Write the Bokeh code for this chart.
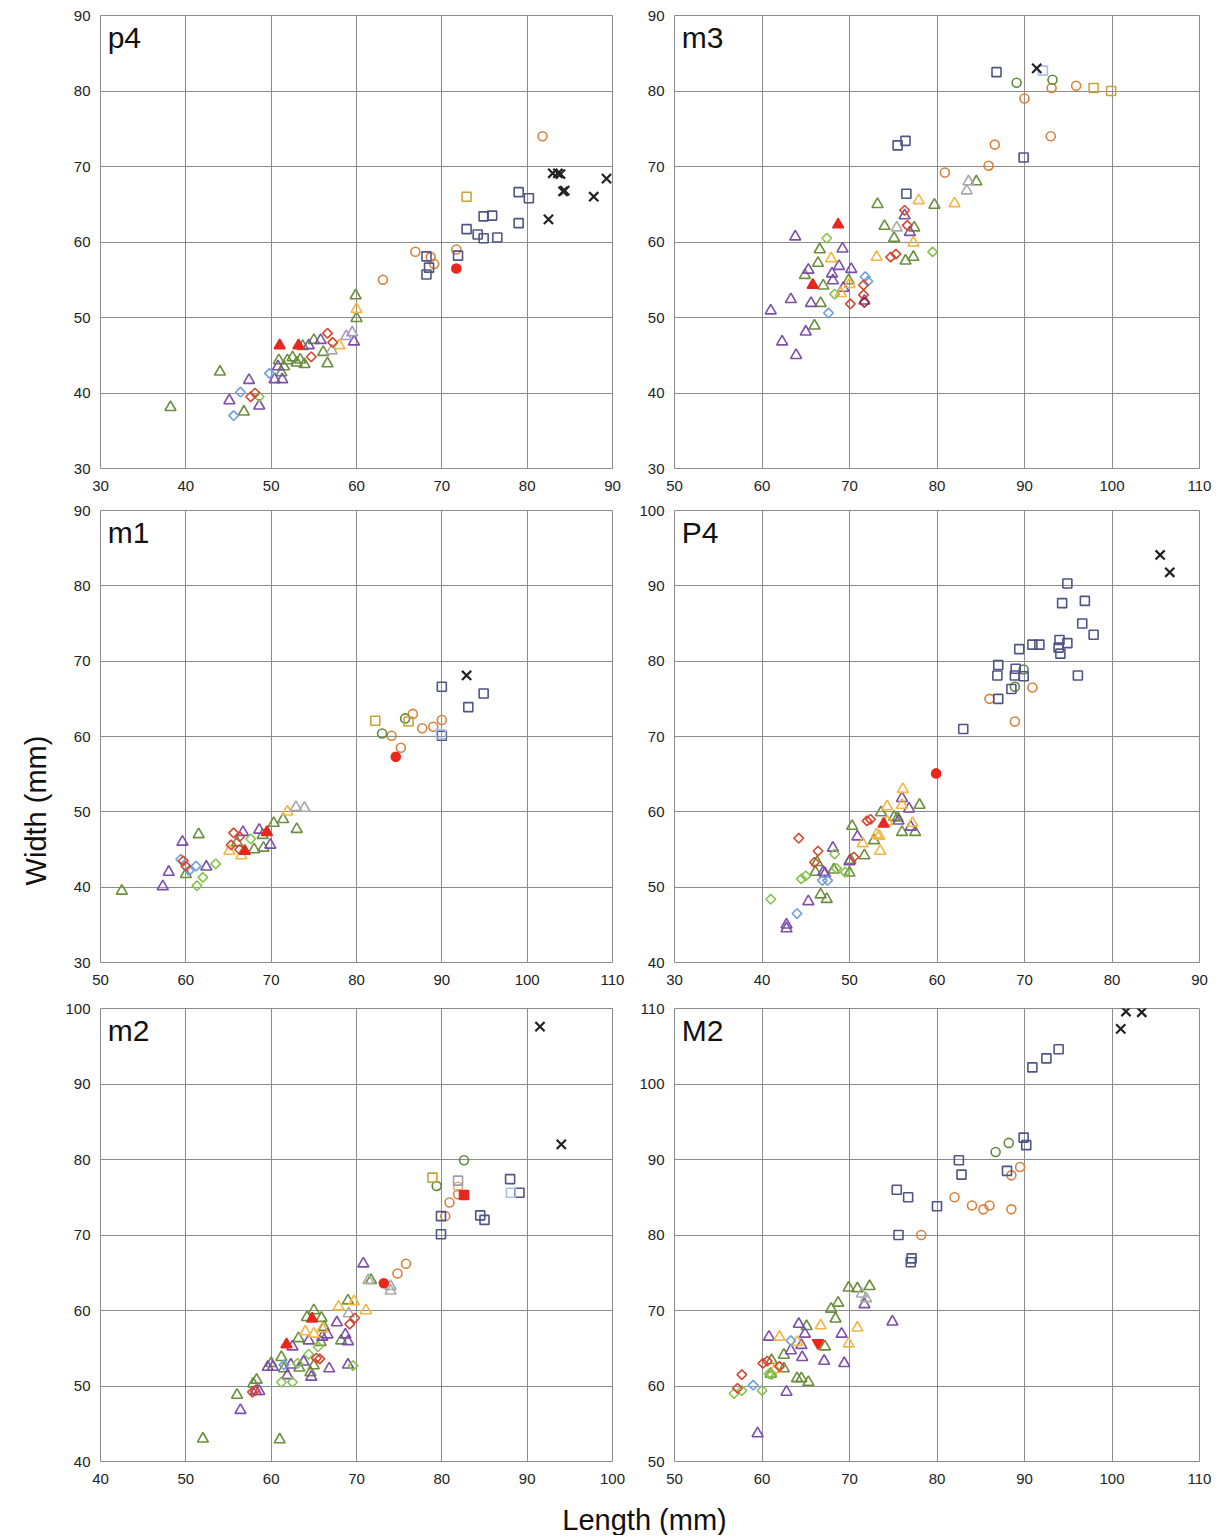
import numpy as np
from bokeh.plotting import figure
from bokeh.models import Range1d, FixedTicker, Label, ColumnDataSource
from bokeh.layouts import row, column
from bokeh.embed import file_html
from bokeh.resources import INLINE
from bokeh.core.properties import value

# ---------------- data (length, width) in mm ----------------
# p4
P4_GT = [(38.2,38.1),(44.0,42.8),(46.8,37.5),(50.9,44.3),(51.2,42.7),(51.5,43.5),(51.9,44.3),(52.5,44.7),
         (53.0,44.0),(53.4,44.4),(53.9,43.8),(53.7,46.2),(55.0,47.0),(56.1,45.4),(56.6,43.9),(59.9,52.9),(60.0,49.9)]
P4_PT = [(45.1,39.0),(47.4,41.7),(48.6,38.3),(50.4,41.8),(50.8,43.5),(51.3,41.8),(54.4,46.3),(55.8,47.0),(59.7,46.8)]
P4_LPT = [(58.8,47.5),(59.5,48.0)]
P4_GYT = [(57.1,45.6)]
P4_OT = [(58.0,46.3),(60.0,51.1)]
P4_BD = [(45.6,37.0),(46.4,40.1),(49.8,42.6)]
P4_RD = [(47.6,39.5),(48.1,40.0),(54.7,44.8),(56.6,47.9),(57.2,46.7)]
P4_LGD = [(48.6,39.5)]
P4_RFT = [(51.0,46.3),(53.2,46.3)]
P4_OC = [(81.8,74.0),(66.9,58.7),(68.7,58.0),(69.1,57.1),(71.7,59.0),(63.1,55.0)]
P4_RFC = [(71.7,56.5)]
P4_NS = [(79.0,66.6),(80.2,65.8),(74.9,63.4),(75.9,63.5),(79.0,62.5),(72.9,61.7),(74.2,61.0),(74.9,60.5),
         (76.5,60.6),(71.9,58.2),(68.2,58.1),(68.5,56.6),(68.2,55.7)]
P4_GS = [(72.9,66.0)]
P4_BX = [(83.0,69.1),(83.6,69.1),(83.9,69.0),(84.2,66.7),(84.4,66.8),(89.3,68.4),(87.8,66.0),(82.5,63.0)]

# m3
M3_GT = [(79.7,64.9),(73.2,65.0),(74.0,62.1),(77.4,61.9),(75.1,60.5),(76.4,57.5),(77.3,58.0),(66.6,59.0),
         (66.4,57.2),(64.9,55.6),(69.9,54.9),(67.0,54.2),(66.7,51.9),(66.0,48.9),(84.5,68.0)]
M3_PT = [(76.3,63.5),(76.9,61.3),(63.8,60.7),(69.2,59.1),(68.8,56.8),(70.2,56.4),(65.3,56.3),(68.0,55.8),
         (68.1,54.9),(69.3,53.9),(63.3,52.4),(65.6,51.9),(61.0,50.9),(65.0,48.1),(62.3,46.8),(63.9,45.0),(71.7,52.2)]
M3_OT = [(77.9,65.5),(82.0,65.1),(77.3,59.9),(73.1,58.0),(67.9,57.8),(70.0,54.4),(69.0,53.2)]
M3_GYT = [(75.4,61.9),(83.6,68.0),(83.4,66.8)]
M3_RD = [(76.3,64.2),(76.6,62.2),(74.7,58.0),(75.3,58.4),(71.6,54.3),(71.6,53.0),(70.1,51.8)]
M3_DRD = [(71.7,52.0)]
M3_LGD = [(79.5,58.7),(67.4,60.5),(68.3,53.1)]
M3_BD = [(71.8,55.4),(72.1,54.8),(67.6,50.6)]
M3_RFT = [(68.7,62.3),(65.8,54.3)]
M3_OC = [(80.9,69.2),(93.1,80.4),(95.9,80.7),(90.0,79.0),(93.0,74.0),(86.6,72.9),(85.9,70.1)]
M3_GC = [(89.1,81.1),(93.2,81.5)]
M3_NS = [(76.5,66.4),(86.8,82.5),(89.9,71.2),(75.5,72.8),(76.4,73.4)]
M3_LBS = [(92.1,82.7)]
M3_GS = [(97.9,80.4),(99.9,80.0)]
M3_BX = [(91.4,83.0)]

# m1
M1_GT = [(52.5,39.5),(61.5,47.0),(60.0,41.7),(66.0,45.9),(68.0,45.0),(69.1,45.2),(69.0,46.9),(70.3,48.5),
         (71.4,49.0),(73.0,47.7)]
M1_PT = [(57.3,40.1),(58.0,42.0),(59.6,46.0),(62.4,42.7),(66.7,47.3),(69.9,45.6),(68.6,47.6)]
M1_BD = [(59.4,43.7),(60.4,42.2),(61.2,42.8)]
M1_RD = [(59.7,43.5),(60.0,42.8),(65.6,47.2),(66.3,46.7),(65.3,45.6),(66.3,45.0)]
M1_LGD = [(63.5,43.1),(62.0,41.3),(61.3,40.2),(67.6,46.4)]
M1_OT = [(65.1,44.8),(66.5,44.2),(71.9,50.0)]
M1_GYT = [(72.9,50.6),(73.9,50.5)]
M1_RFT = [(66.9,44.8),(69.5,47.3)]
M1_BX = [(92.9,68.1)]
M1_NS = [(90.0,66.6),(94.9,65.7),(93.1,63.9),(90.0,60.1)]
M1_LBS = [(89.9,60.3)]
M1_GS = [(82.2,62.1),(86.1,62.0)]
M1_GC = [(85.7,62.4),(83.0,60.4)]
M1_OC = [(86.6,63.0),(90.0,62.2),(89.0,61.3),(87.7,61.1),(84.1,60.1),(85.2,58.5)]
M1_RFC = [(84.6,57.3)]

# P4
UP4_RFC = [(59.9,65.1)]
UP4_OT = [(56.1,63.0),(54.3,60.7),(56.0,60.9),(54.3,58.7),(57.2,58.5),(53.1,57.0),(53.4,56.8),(51.5,55.8),(53.5,54.8)]
UP4_PT = [(56.0,61.8),(56.8,60.4),(55.6,58.8),(57.0,58.0),(50.9,56.7),(50.0,53.4),(48.1,55.2),(47.0,52.0),
          (47.2,51.8),(45.3,48.1),(42.8,45.0),(42.8,44.5)]
UP4_GT = [(58.0,60.9),(53.6,59.9),(55.1,59.3),(55.5,59.2),(56.0,57.3),(57.5,57.3),(50.3,58.1),(52.8,56.2),
          (51.7,54.2),(50.1,53.6),(46.3,53.3),(46.1,52.0),(48.2,52.3),(50.0,51.9),(46.7,49.0),(47.4,48.4)]
UP4_RD = [(52.0,58.8),(52.4,59.0),(50.5,54.0),(44.2,56.5),(46.4,54.8),(46.0,53.3)]
UP4_RFT = [(53.9,58.4)]
UP4_LGD = [(48.3,54.4),(48.5,52.5),(49.5,52.0),(45.0,51.5),(44.5,51.1),(41.0,48.4)]
UP4_BD = [(46.9,50.9),(47.5,50.9),(44.0,46.5)]
UP4_BX = [(85.5,94.1),(86.6,91.8)]
UP4_NS = [(74.9,90.3),(74.3,87.7),(76.9,88.0),(76.6,85.0),(77.9,83.5),(74.0,82.8),(74.9,82.4),(73.9,81.8),
          (74.1,81.0),(70.9,82.2),(71.7,82.2),(69.4,81.6),(67.0,79.5),(66.9,78.1),(69.0,79.0),(68.9,78.1),
          (69.9,78.0),(76.1,78.1),(68.5,76.3),(67.0,75.0),(63.0,71.0)]
UP4_GC = [(69.9,78.9),(68.9,76.6)]
UP4_OC = [(70.9,76.5),(66.0,75.0),(68.9,72.0)]

# m2
M2_PT = [(70.8,66.2),(67.7,58.4),(64.4,56.0),(66.0,56.5),(66.6,56.8),(68.7,56.8),(69.0,55.9),(62.5,55.2),
         (63.8,53.2),(62.3,52.8),(59.6,52.5),(60.2,52.5),(66.8,52.3),(69.0,52.8),(61.9,51.4),(64.7,51.2),
         (58.6,49.3),(58.2,49.3),(56.4,46.8)]
M2_GYT = [(71.4,64.0),(74.0,62.6),(74.0,63.2),(69.1,59.6)]
M2_GT = [(71.7,64.0),(69.0,61.3),(65.0,60.0),(64.2,59.1),(65.9,59.0),(63.2,56.3),(66.2,57.8),(65.8,55.8),
         (68.2,56.0),(61.2,53.8),(65.0,52.7),(61.5,52.3),(60.0,53.0),(63.3,52.4),(64.6,51.8),(58.3,50.8),
         (57.9,50.3),(56.0,48.8),(52.0,43.0),(61.0,42.9)]
M2_RFC = [(73.2,63.6)]
M2_OC = [(74.8,64.9),(75.8,66.2),(81.9,75.4),(80.9,74.3),(80.4,72.5)]
M2_TC = [(81.9,76.4)]
M2_OT = [(67.9,60.5),(69.7,61.2),(71.1,60.0),(66.0,57.6),(65.0,56.9),(64.0,57.2)]
M2_RD = [(69.8,59.0),(69.2,58.2),(65.3,53.7),(65.7,53.6),(57.8,49.2),(58.1,49.4)]
M2_RFT = [(64.8,58.9),(61.8,55.5)]
M2_LGD = [(64.4,54.2),(65.5,55.2),(63.1,53.0),(69.6,52.7),(61.2,50.5),(62.5,50.5)]
M2_BD = [(61.5,52.8)]
M2_BX = [(91.5,97.6),(94.0,82.0)]
M2_GC = [(82.6,79.9),(79.4,76.5)]
M2_GS = [(78.9,77.6)]
M2_GYS = [(81.9,77.2)]
M2_RFS = [(82.6,75.3)]
M2_NS = [(88.0,77.4),(89.1,75.6),(84.5,72.6),(85.0,72.0),(79.9,72.5),(79.9,70.1)]
M2_LBS = [(88.1,75.6)]

# M2
UM2_GT = [(69.9,73.0),(70.9,72.9),(72.3,73.2),(68.7,71.0),(67.9,70.2),(68.4,68.9),(65.1,67.9),(67.2,65.2),
          (62.5,64.1),(61.1,63.4),(62.5,62.3),(61.0,61.6),(64.0,61.0),(64.5,61.0),(65.3,60.5)]
UM2_GYT = [(71.4,72.2),(71.9,71.6)]
UM2_PT = [(71.7,70.8),(74.9,68.5),(64.2,68.2),(64.9,66.9),(69.1,66.9),(60.8,66.5),(64.5,65.4),(63.3,64.7),
          (64.6,63.8),(67.1,63.3),(69.4,63.0),(62.8,59.2),(59.5,53.7)]
UM2_OT = [(66.7,68.0),(70.9,67.7),(62.0,66.5),(64.0,65.8),(69.9,65.6),(61.5,62.2)]
UM2_BD = [(63.3,66.0),(59.0,60.1)]
UM2_RFIT = [(66.4,65.7)]
UM2_RD = [(60.1,63.0),(60.6,63.3),(62.0,62.6),(57.7,61.5),(57.2,59.7)]
UM2_LGD = [(60.8,61.6),(61.1,61.5),(60.0,59.4),(57.7,59.4),(56.8,59.0)]
UM2_BX = [(101.6,109.6),(103.4,109.5),(101.0,107.3)]
UM2_NS = [(93.9,104.6),(92.5,103.4),(90.9,102.2),(89.9,92.9),(90.2,91.9),(82.5,89.9),(82.8,88.0),(88.0,88.5),
          (75.4,86.0),(76.7,85.0),(80.0,83.8),(75.6,80.0),(77.1,76.9),(77.0,76.4)]
UM2_GC = [(88.2,92.2),(86.7,91.0)]
UM2_OC = [(89.5,89.0),(88.5,87.9),(82.0,85.0),(84.0,83.9),(85.3,83.4),(86.0,83.9),(88.5,83.4),(78.2,80.0)]

# panel names, axis ranges
PANEL_NAMES = ["p4", "m3", "m1", "P4", "m2", "M2"]
X_RANGES = [(30, 90), (50, 110), (50, 110), (30, 90), (40, 100), (50, 110)]
Y_RANGES = [(30, 90), (30, 90), (30, 90), (40, 100), (40, 100), (50, 110)]
X_TITLE = "Length (mm)"
Y_TITLE = "Width (mm)"

SERIES = [
    {"gt": P4_GT, "pt": P4_PT, "lpt": P4_LPT, "gyt": P4_GYT, "ot": P4_OT, "bd": P4_BD, "rd": P4_RD,
     "lgd": P4_LGD, "rft": P4_RFT, "oc": P4_OC, "rfc": P4_RFC, "ns": P4_NS, "gs": P4_GS, "bx": P4_BX},
    {"gt": M3_GT, "pt": M3_PT, "ot": M3_OT, "gyt": M3_GYT, "rd": M3_RD, "drd": M3_DRD, "lgd": M3_LGD,
     "bd": M3_BD, "rft": M3_RFT, "oc": M3_OC, "gc": M3_GC, "ns": M3_NS, "lbs": M3_LBS, "gs": M3_GS, "bx": M3_BX},
    {"gt": M1_GT, "pt": M1_PT, "bd": M1_BD, "rd": M1_RD, "lgd": M1_LGD, "ot": M1_OT, "gyt": M1_GYT,
     "rft": M1_RFT, "bx": M1_BX, "ns": M1_NS, "lbs": M1_LBS, "gs": M1_GS, "gc": M1_GC, "oc": M1_OC, "rfc": M1_RFC},
    {"ot": UP4_OT, "pt": UP4_PT, "gt": UP4_GT, "rd": UP4_RD, "rft": UP4_RFT, "lgd": UP4_LGD, "bd": UP4_BD,
     "bx": UP4_BX, "ns": UP4_NS, "gc": UP4_GC, "oc": UP4_OC, "rfc": UP4_RFC},
    {"pt": M2_PT, "gyt": M2_GYT, "gt": M2_GT, "ot": M2_OT, "rd": M2_RD, "rft": M2_RFT, "lgd": M2_LGD,
     "bd": M2_BD, "bx": M2_BX, "gc": M2_GC, "gs": M2_GS, "gys": M2_GYS, "ns": M2_NS, "lbs": M2_LBS,
     "oc": M2_OC, "tc": M2_TC, "rfs": M2_RFS, "rfc": M2_RFC},
    {"gt": UM2_GT, "gyt": UM2_GYT, "pt": UM2_PT, "ot": UM2_OT, "bd": UM2_BD, "rd": UM2_RD, "lgd": UM2_LGD,
     "bx": UM2_BX, "ns": UM2_NS, "gc": UM2_GC, "oc": UM2_OC, "rfit": UM2_RFIT},
]

# ---------------- styles ----------------
TRI = dict(marker="triangle", size=11)
DIA = dict(marker="square", size=6.8, angle=np.pi / 4)
CIR = dict(marker="circle", size=9)
SQU = dict(marker="square", size=9)
STYLES = {
    "gt":  (TRI, "#6a8f3c", False),
    "pt":  (TRI, "#7d4ea8", False),
    "lpt": (TRI, "#a995c6", False),
    "ot":  (TRI, "#f5b53f", False),
    "gyt": (TRI, "#a9a9a9", False),
    "lgd": (DIA, "#86c24d", False),
    "bd":  (DIA, "#6e9fd8", False),
    "rd":  (DIA, "#d5472f", False),
    "drd": (DIA, "#8e2a3c", False),
    "rft": (TRI, "#e8271f", True),
    "rfit": (dict(marker="inverted_triangle", size=11), "#e8271f", True),
    "rfc": (CIR, "#e8271f", True),
    "rfs": (SQU, "#e8271f", True),
    "oc":  (CIR, "#d9823f", False),
    "tc":  (CIR, "#d9a868", False),
    "gc":  (CIR, "#5f8a3a", False),
    "ns":  (SQU, "#4f5585", False),
    "lbs": (SQU, "#a7c0e6", False),
    "gs":  (SQU, "#c9a23a", False),
    "gys": (SQU, "#a0a0a0", False),
    "bx":  (dict(marker="x", size=13), "#222222", False),
}
LINE_W = {"bx": 2.2}
DRAW_ORDER = ["gt", "pt", "lpt", "ot", "gyt", "lgd", "bd", "rd", "drd", "rft", "rfit",
              "oc", "tc", "gc", "ns", "lbs", "gs", "gys", "rfc", "rfs", "bx"]

FONT = "Liberation Sans"
GRID = "#8c8c8c"
YLAB_W = 60


def make_panel(i, left_col, top_b, frame_h, bottom_b):
    xr, yr = X_RANGES[i], Y_RANGES[i]
    if left_col:
        fw, bl, br = 512, 100 - YLAB_W, 16
    else:
        fw, bl, br = 525, 46, 15
    p = figure(frame_width=fw, frame_height=frame_h, min_border_left=bl, min_border_right=br,
               min_border_top=top_b, min_border_bottom=bottom_b,
               x_range=Range1d(*xr), y_range=Range1d(*yr),
               output_backend="svg", toolbar_location=None, background_fill_color="white",
               border_fill_color="white")
    p.xaxis.ticker = FixedTicker(ticks=list(range(xr[0], xr[1] + 1, 10)))
    p.yaxis.ticker = FixedTicker(ticks=list(range(yr[0], yr[1] + 1, 10)))
    for ax in (p.xaxis, p.yaxis):
        ax.axis_line_color = None
        ax.major_tick_line_color = None
        ax.minor_tick_line_color = None
        ax.major_label_text_font = FONT
        ax.major_label_text_font_size = "15px"
        ax.major_label_text_color = "#222222"
    p.xaxis.major_label_standoff = 6
    p.yaxis.major_label_standoff = 4
    p.grid.grid_line_color = GRID
    p.grid.grid_line_width = 1
    p.outline_line_color = GRID
    p.outline_line_width = 1
    for key in DRAW_ORDER:
        pts = SERIES[i].get(key)
        if not pts:
            continue
        mk, col, filled = STYLES[key]
        src = ColumnDataSource(dict(x=[a for a, b in pts], y=[b for a, b in pts]))
        p.scatter("x", "y", source=src, line_color=col, line_width=LINE_W.get(key, 1.6),
                  fill_color=col if filled else None, **mk)
    dx, dy = xr[1] - xr[0], yr[1] - yr[0]
    p.add_layout(Label(x=xr[0] + 0.014 * dx, y=yr[1] - 0.012 * dy, text=PANEL_NAMES[i],
                       text_font=FONT, text_font_size="30px", text_baseline="top",
                       text_color="#111111"))
    return p


ROWS = [(15, 453, 30), (12, 452, 30), (16, 453, 30)]
figs = []
for r, (tb, fh, bb) in enumerate(ROWS):
    figs.append(row(make_panel(2 * r, True, tb, fh, bb), make_panel(2 * r + 1, False, tb, fh, bb)))

total_h = sum(t + f + b for t, f, b in ROWS)

ylab = figure(width=YLAB_W, height=total_h, x_range=Range1d(0, YLAB_W), y_range=Range1d(total_h, 0),
              output_backend="svg", toolbar_location=None, min_border=0)
ylab.axis.visible = False
ylab.grid.visible = False
ylab.outline_line_color = None
ylab.text(x=[35], y=[810], text=[Y_TITLE], angle=np.pi / 2, text_align="center",
          text_baseline="middle", text_font=value(FONT), text_font_size="29px", text_color="#111111")

XLAB_H = 44
xlab = figure(width=1214, height=XLAB_H, x_range=Range1d(0, 1214), y_range=Range1d(XLAB_H, 0),
              output_backend="svg", toolbar_location=None, min_border=0)
xlab.axis.visible = False
xlab.grid.visible = False
xlab.outline_line_color = None
xlab.text(x=[644], y=[28], text=[X_TITLE], text_align="center", text_baseline="middle",
          text_font=value(FONT), text_font_size="29px", text_color="#111111")

layout = column(row(ylab, column(*figs)), xlab)
open("out.html", "w").write(file_html(layout, INLINE))
